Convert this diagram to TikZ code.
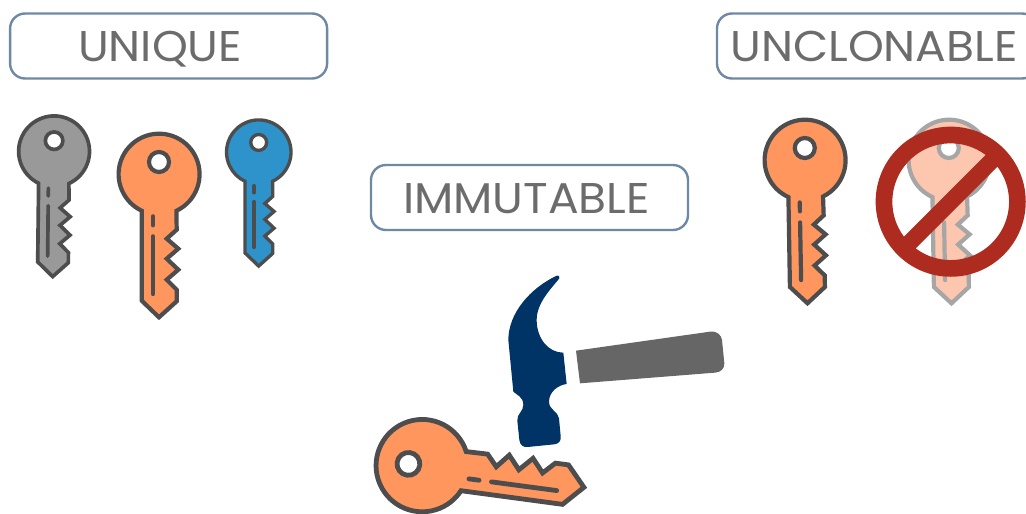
\documentclass[tikz,border=0pt]{standalone}
\usepackage{fontspec}
\setmainfont[FakeStretch=1.06]{Poppins}
\definecolor{keyline}{HTML}{4D4D4D}
\definecolor{keyorange}{HTML}{FF965E}
\definecolor{keygray}{HTML}{999999}
\definecolor{keyblue}{HTML}{2E93CB}
\definecolor{ghostfill}{HTML}{FDC6AE}
\definecolor{ghostline}{HTML}{A6A6A6}
\definecolor{boxline}{HTML}{6F88A3}
\definecolor{labeltext}{HTML}{6C6C6C}
\definecolor{banred}{HTML}{AE2B1F}
\definecolor{hammerhead}{HTML}{003366}
\definecolor{hammerhandle}{HTML}{666666}
\tikzset{
  labelbox/.style={draw=boxline,line width=2.4pt,rounded corners=15pt,fill=white,
    minimum height=65pt,inner sep=0pt,text=labeltext,text height=31pt,text depth=0pt,
    font=\fontsize{43}{43}\selectfont},
}
\newcommand{\keyart}[6]{%
  \begin{scope}[shift={(#1,#2)},x=1pt,y=1pt,rotate=#3,scale=#4,line width=#4*4.2pt]
    \draw[fill=#5,draw=#6,miter limit=6]
      (17.4,-36.8) arc (-64.7:244.7:40.5)
      -- (-17.3,-126.7) -- (0,-143.3) -- (17.7,-127.3) -- (17.7,-115.7)
      -- (7.7,-105.7) -- (19.3,-95.7) -- (7.7,-84.7) -- (19.3,-74.7)
      -- (7.7,-64.7) -- (17.7,-55.7) -- cycle;
    \draw[fill=white,draw=#6] (0,12) circle (10);
    \draw[draw=#6,line cap=round] (-6,-42.3) -- (-6,-51.3);
    \draw[draw=#6,line cap=round] (-6,-62.3) -- (-6,-120);
  \end{scope}%
}
\begin{document}
\begin{tikzpicture}[x=1pt,y=-1pt]
\useasboundingbox (0,0) rectangle (1026,514);
\clip (0,0) rectangle (1026,514);
% labels
\node[labelbox,minimum width=317pt] (unique) at (168.6,46) {UNIQUE\kern17pt};
\node[labelbox,minimum width=317pt] (immutable) at (529.5,197.5) {IMMUTABLE\kern6pt};
\node[labelbox,minimum width=320pt] (unclonable) at (877,46) {UNCLONABLE\kern6pt};
% keys
\keyart{54}{151.2}{-0.6}{0.875}{keygray}{keyline}
\keyart{159}{174}{0}{1}{keyorange}{keyline}
\keyart{258.7}{152}{0}{0.796}{keyblue}{keyline}
\keyart{805}{160}{1}{1}{keyorange}{keyline}
\keyart{949}{160}{1}{1}{ghostfill}{ghostline}
% prohibition sign
\draw[banred,line width=16.7pt] (950.7,201.7) circle (66.7);
\draw[banred,line width=16.7pt] (903.5,248.9) -- (997.9,154.5);
% hammer
\begin{scope}[shift={(360,260)},scale=0.33333]
  \fill[hammerhandle] (648,272) -- (1050,215)
    .. controls (1072,212) and (1084,226) .. (1086,240)
    -- (1093,310) .. controls (1094,326) and (1082,337) .. (1065,338)
    -- (660,370) -- cycle;
  \fill[hammerhead] (590,47) .. controls (510,85) and (445,160) .. (445,240)
    -- (460,395) .. controls (470,405) and (490,410) .. (490,435)
    .. controls (490,455) and (470,462) .. (472,482)
    -- (478,540) .. controls (480,555) and (490,563) .. (503,561)
    -- (583,553) .. controls (598,551) and (604,541) .. (602,528)
    -- (597,475) .. controls (595,455) and (567,450) .. (567,425)
    .. controls (567,395) and (595,375) .. (620,372)
    -- (610,278) .. controls (565,278) and (530,235) .. (530,180)
    .. controls (530,130) and (570,90) .. (598,55)
    .. controls (600,48) and (596,45) .. (590,47) -- cycle;
\end{scope}
% broken key
\keyart{422}{465.7}{82.4}{1.14}{keyorange}{keyline}
\end{tikzpicture}
\end{document}
